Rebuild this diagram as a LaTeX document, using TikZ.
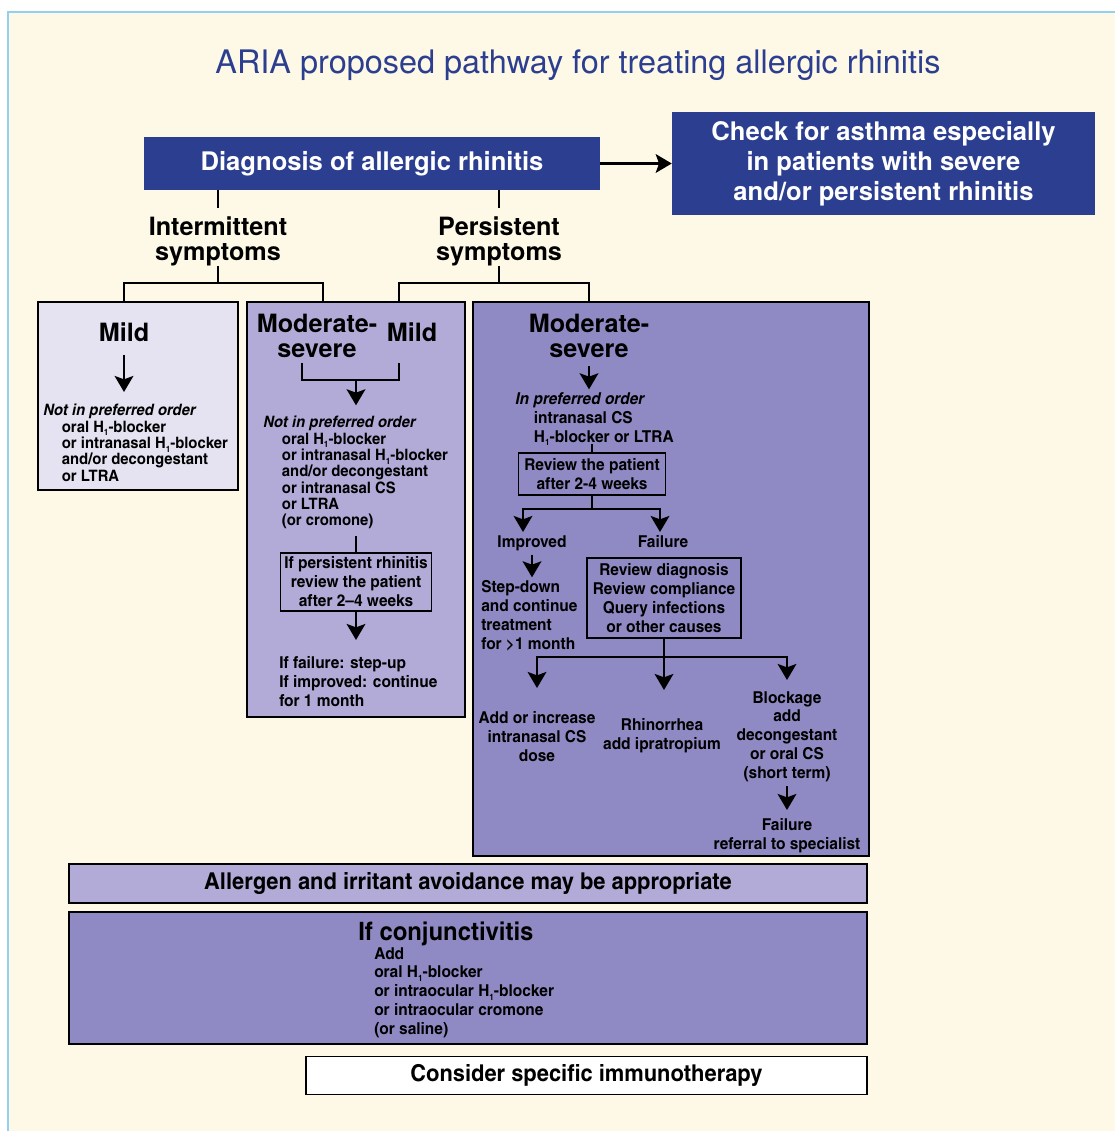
\documentclass[tikz,border=0pt]{standalone}
\usepackage{fontspec}
\setmainfont{TeX Gyre Heros}
\newfontfamily\condfont{TeX Gyre Heros Cn}[FakeStretch=1.15]
\usetikzlibrary{arrows.meta,positioning,fit}
\definecolor{AriaNavy}{HTML}{2B3E8F}
\definecolor{AriaCream}{HTML}{FEF8E6}
\definecolor{AriaSky}{HTML}{92CFF0}
\definecolor{AriaPale}{HTML}{E5E2F1}
\definecolor{AriaLilac}{HTML}{B2ABD7}
\definecolor{AriaViolet}{HTML}{8F8AC4}
\newcommand{\Hone}{H\raisebox{-0.45ex}[0pt][0pt]{\fontsize{6.5}{6.5}\selectfont 1}}
\tikzset{
  link/.style={line width=1.9pt, draw=black},
  pointer/.style={link, -{Stealth[length=12pt,width=14pt,inset=2.5pt]}},
  panel/.style={draw=black, line width=0.9pt, inner sep=0pt},
  navybox/.style={fill=AriaNavy, text=white, inner sep=0pt, align=center,
    font=\bfseries\fontsize{19.2}{22.5}\selectfont},
  headtext/.style={font=\bfseries\fontsize{18.9}{18.9}\selectfont, align=center, inner sep=0pt},
  listtext/.style={font=\condfont\bfseries\fontsize{11.8}{12.25}\selectfont, align=left, inner sep=0pt},
  steptext/.style={font=\condfont\bfseries\fontsize{12.3}{14.2}\selectfont, align=center, inner sep=0pt},
  reviewbox/.style={steptext, draw=black, line width=0.9pt},
  banner/.style={panel, font=\condfont\bfseries\fontsize{17.4}{20}\selectfont},
}
\begin{document}
\begin{tikzpicture}[x=0.75pt,y=-0.75pt]
  \useasboundingbox (0,0) rectangle (1115,1131);
  \fill[AriaCream] (8,12) rectangle (1115,1131);
  \draw[AriaSky, line width=1.5pt] (8,1131) -- (8,12) -- (1115,12);

  % title and top boxes
  \node[anchor=base, text=AriaNavy, font=\fontsize{24.3}{28}\selectfont] (title) at (578,74)
    {ARIA proposed pathway for treating allergic rhinitis};
  \node[navybox, minimum width=342pt, minimum height=39.75pt] (diag) at (372,163.5)
    {Diagnosis of allergic rhinitis};
  \node[navybox, minimum width=317.25pt, minimum height=77.25pt] (check) at (883.5,163.5)
    {Check for asthma especially\\in patients with severe\\and/or persistent rhinitis};
  \draw[pointer] (diag.east) -- (check.west);

  \node[headtext, anchor=north] (intsym) at (218,216) {Intermittent\\symptoms};
  \node[headtext, anchor=north] (persym) at (499,216) {Persistent\\symptoms};
  \draw[link, shorten >=6pt] (diag.south -| intsym.north) -- (intsym.north);
  \draw[link, shorten >=6pt] (diag.south -| persym.north) -- (persym.north);

  % the three panels
  \node[panel, fill=AriaPale, fit={(38,302) (238,490)}] (mildbox) {};
  \node[panel, fill=AriaLilac, fit={(247,302) (465,717)}] (midbox) {};
  \node[panel, fill=AriaViolet, fit={(473,302) (869,856)}] (sevbox) {};

  \coordinate (intfork) at (218,283);
  \coordinate (intend) at (323,302);
  \coordinate (perfork) at (499,283);
  \coordinate (perend) at (399,302);
  \draw[link] (intsym.south) -- (intfork);
  \draw[link] (persym.south) -- (perfork);

  % intermittent mild
  \node[headtext, anchor=base] (mildhd) at (124,341) {Mild};
  \draw[link] (mildhd |- mildbox.north) |- (intfork) -| (intend);
  \node[listtext, anchor=north west] (mildlist) at (43,404)
    {{\itshape Not in preferred order}\\
     \hspace*{14pt}oral \Hone-blocker\\
     \hspace*{14pt}or intranasal \Hone-blocker\\
     \hspace*{14pt}and/or decongestant\\
     \hspace*{14pt}or LTRA};
  \draw[pointer, shorten <=10pt, shorten >=9pt] (mildhd.south) -- (mildhd.south |- mildlist.north);

  % moderate-severe intermittent or mild persistent
  \node[headtext, anchor=north] (modhd) at (317,314) {Moderate-\\severe};
  \node[headtext, anchor=base] (permild) at (412,341) {Mild};
  \coordinate (brkL) at (302,363);
  \coordinate (brkR) at (399,363);
  \coordinate (brkM) at (356,380);
  \draw[link] (brkL) |- (brkM) -| (brkR);
  \node[listtext, anchor=north west] (midlist) at (263,416)
    {{\itshape Not in preferred order}\\
     \hspace*{14pt}oral \Hone-blocker\\
     \hspace*{14pt}or intranasal \Hone-blocker\\
     \hspace*{14pt}and/or decongestant\\
     \hspace*{14pt}or intranasal CS\\
     \hspace*{14pt}or LTRA\\
     \hspace*{14pt}(or cromone)};
  \draw[pointer, shorten >=8pt] (brkM) -- (brkM |- midlist.north);
  \node[reviewbox, minimum width=113.25pt, minimum height=43.5pt] (persbox) at (356,582)
    {If persistent rhinitis\\review the patient\\after 2–4 weeks};
  \draw[link, shorten <=5pt] (persbox.north |- midlist.south) -- (persbox.north);
  \node[steptext, align=left, anchor=north west] (midout) at (279,656)
    {If failure: step-up\\If improved: continue\\for 1 month};
  \draw[pointer, shorten >=12pt] (persbox.south) -- (persbox.south |- midout.north);

  % moderate-severe persistent
  \node[headtext, anchor=north] (sevhd) at (589,314) {Moderate-\\severe};
  \draw[link] (perend) |- (perfork) -| (sevhd |- sevbox.north);
  \node[steptext, align=left, anchor=north west] (preflist) at (515,392)
    {{\itshape In preferred order}\\
     \hspace*{14pt}intranasal CS\\
     \hspace*{14pt}\Hone-blocker or LTRA};
  \draw[pointer, shorten <=6pt, shorten >=2pt] (sevhd.south) -- (sevhd.south |- preflist.north);
  \node[reviewbox, minimum width=110.25pt, minimum height=31.5pt] (revbox) at (592,474)
    {Review the patient\\after 2-4 weeks};
  \draw[link, shorten <=1pt] (revbox.north |- preflist.south) -- (revbox.north);

  \coordinate (revfork) at (592,509);
  \coordinate (impin) at (523,532);
  \coordinate (failin) at (660,532);
  \draw[link] (revbox.south) -- (revfork);
  \draw[pointer] (revfork) -| (impin);
  \draw[pointer] (revfork) -| (failin);
  \node[steptext, anchor=base] (improved) at (532,547) {Improved};
  \node[steptext, anchor=base] (failure) at (663,547) {Failure};
  \node[steptext, align=left, anchor=north west] (stepdown) at (481,580)
    {Step-down\\and continue\\treatment\\for \textgreater1 month};
  \draw[pointer, shorten <=3pt, shorten >=2pt] (improved.south) -- (improved.south |- stepdown.north);
  \node[reviewbox, minimum width=115.5pt, minimum height=60pt] (failbox) at (664,598)
    {Review diagnosis\\Review compliance\\Query infections\\or other causes};

  \coordinate (failfork) at (664,657);
  \coordinate (tipadd) at (537,688);
  \coordinate (tiprhi) at (664,690);
  \coordinate (tipblk) at (787,680);
  \draw[link] (failbox.south) -- (failfork);
  \draw[pointer] (failfork) -| (tipadd);
  \draw[pointer] (failfork) -- (tiprhi);
  \draw[pointer] (failfork) -| (tipblk);
  \node[steptext, anchor=north] (addcs) at (537,711) {Add or increase\\intranasal CS\\dose};
  \node[steptext, anchor=north] (rhino) at (662,718) {Rhinorrhea\\add ipratropium};
  \node[steptext, anchor=north] (blockage) at (787,691)
    {Blockage\\add\\decongestant\\or oral CS\\(short term)};
  \node[steptext, anchor=north] (referral) at (787,818) {Failure\\referral to specialist};
  \draw[pointer, shorten <=3pt, shorten >=6pt] (blockage.south) -- (referral.north);

  % bottom bands
  \node[banner, fill=AriaLilac, minimum width=598.5pt, minimum height=29.25pt] (avoid) at (468,883.5)
    {Allergen and irritant avoidance may be appropriate};
  \node[panel, fill=AriaViolet, fit={(69,912) (867,1044)}] (conjbox) {};
  \node[anchor=base west, inner sep=0pt, font=\condfont\bfseries\fontsize{19}{22}\selectfont]
    (conjhd) at (358,940) {If conjunctivitis};
  \node[steptext, align=left, anchor=north west] (conjlist) at (374,947)
    {Add\\oral \Hone-blocker\\or intraocular \Hone-blocker\\or intraocular cromone\\(or saline)};
  \node[banner, fill=white, minimum width=420.75pt, minimum height=28.5pt] (immuno) at (586.5,1075.5)
    {Consider specific immunotherapy};
\end{tikzpicture}
\end{document}
